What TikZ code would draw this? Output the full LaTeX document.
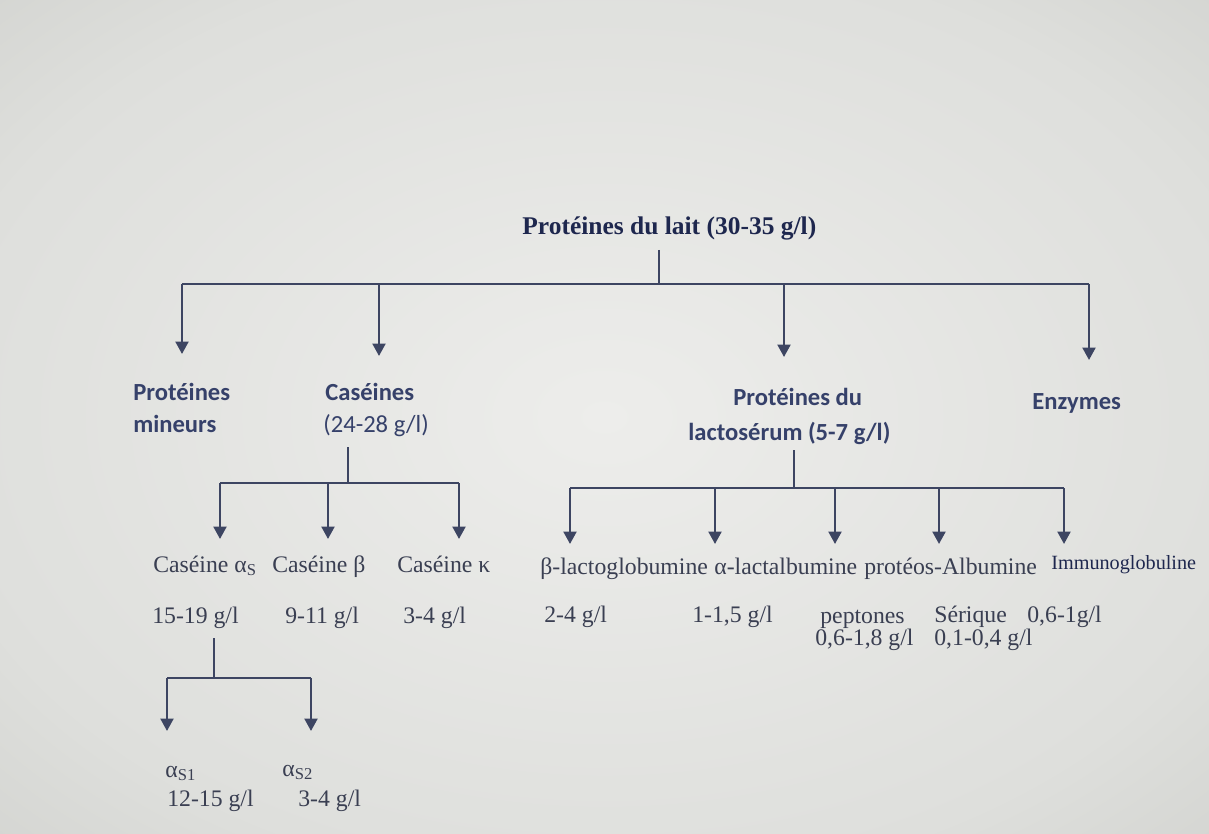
\documentclass[tikz,border=0pt]{standalone}
\usepackage{fontspec}
\setmainfont{Liberation Serif}
\newfontfamily\calibri{Carlito}
\usetikzlibrary{arrows.meta}
\definecolor{screenLight}{HTML}{EDEDEB}
\definecolor{screenGray}{HTML}{DEDFDC}
\definecolor{screenEdge}{HTML}{C4C5C1}
\definecolor{screenCorner}{HTML}{A3A4A0}
\definecolor{inkNavy}{HTML}{1E274E}
\definecolor{inkBlue}{HTML}{36416A}
\definecolor{inkGray}{HTML}{3A3F52}
\definecolor{lineGray}{HTML}{3D4562}
\pgfdeclareradialshading{ecran}{\pgfpoint{0bp}{0bp}}{color(0bp)=(screenLight); color(28bp)=(screenGray); color(50bp)=(screenEdge); color(72bp)=(screenCorner)}

\begin{document}
\begin{tikzpicture}[x=0.02cm, y=-0.02cm,
    titre/.style={font=\fontsize{14.5}{17}\selectfont\bfseries\color{inkNavy},
                  inner sep=0pt, anchor=base west},
    groupe/.style={font=\calibri\fontsize{14}{17}\selectfont\bfseries\color{inkBlue},
                   inner sep=0pt, anchor=base west},
    teneur/.style={font=\calibri\fontsize{14}{17}\selectfont\color{inkBlue},
                   inner sep=0pt, anchor=base west},
    prot/.style={font=\fontsize{13.5}{16}\selectfont\color{inkGray},
                 inner sep=0pt, anchor=base west},
    ln/.style={draw=lineGray, line width=1.35pt},
    arr/.style={ln, -{Triangle[length=2.5mm, width=2.6mm]}},
  ]
    \useasboundingbox (0,0) rectangle (1209,834);
    \shade[shading=ecran] (0,0) rectangle (1209,834);

    \node[titre] (lait) at (522,235) {Protéines du lait (30-35 g/l)};

    \node[groupe] (mineurs)   at (133,400) {Protéines};
    \node[groupe] (mineursB)  at (133,432) {mineurs};
    \node[groupe] (caseines)  at (325,400) {Caséines};
    \node[teneur] (caseinesB) at (323,432) {(24-28 g/l)};
    \node[groupe] (lacto)     at (733,405) {Protéines du};
    \node[groupe] (lactoB)    at (688,440) {lactosérum (5-7 g/l)};
    \node[groupe] (enzymes)   at (1032,409) {Enzymes};

    \node[prot] (csA) at (153,572) {Caséine α\textsubscript{S}};
    \node[prot] (csB) at (272,572) {Caséine β};
    \node[prot] (csK) at (397,572) {Caséine κ};
    \node[prot] (vA)  at (152,623) {15-19 g/l};
    \node[prot] (vB)  at (285,623) {9-11 g/l};
    \node[prot] (vK)  at (403,623) {3-4 g/l};

    \node[prot] (as1) at (165,777) {α\textsubscript{S1}};
    \node[prot] (as2) at (282,776) {α\textsubscript{S2}};
    \node[prot] (v1)  at (167,806) {12-15 g/l};
    \node[prot] (v2)  at (298,806) {3-4 g/l};

    \node[prot] (blg) at (540,574) {β-lactoglobumine};
    \node[prot] (ala) at (714,574) {α-lactalbumine};
    \node[prot] (ppa) at (864,574) {protéos-Albumine};
    \node[prot, font=\fontsize{11.5}{14}\selectfont\color{inkNavy}] (igg) at (1051,569) {Immunoglobuline};
    \node[prot] (vblg)  at (544,622) {2-4 g/l};
    \node[prot] (vala)  at (692,622) {1-1,5 g/l};
    \node[prot] (vpep)  at (820,623) {peptones};
    \node[prot] (vpepB) at (815,645) {0,6-1,8 g/l};
    \node[prot] (vser)  at (934,622) {Sérique};
    \node[prot] (vserB) at (934,645) {0,1-0,4 g/l};
    \node[prot] (vigg)  at (1027,622) {0,6-1g/l};

    \coordinate (j0top) at (659,250);
    \coordinate (j0) at (659,284);
    \coordinate (tMin) at (182,354);
    \coordinate (tCas) at (379,356);
    \coordinate (tLac) at (784,357);
    \coordinate (tEnz) at (1089,360);
    \draw[ln] (j0top) -- (j0);
    \draw[ln] (tMin |- j0) -- (tEnz |- j0);
    \foreach \t in {tMin,tCas,tLac,tEnz}
      \draw[arr] (\t |- j0) -- (\t);

    \coordinate (j1top) at (348,447);
    \coordinate (j1) at (348,483);
    \coordinate (tA) at (220,539);
    \coordinate (tB) at (328,539);
    \coordinate (tK) at (459,539);
    \draw[ln] (j1top) -- (j1);
    \draw[ln] (tA |- j1) -- (tK |- j1);
    \foreach \t in {tA,tB,tK}
      \draw[arr] (\t |- j1) -- (\t);

    \coordinate (j3top) at (214,638);
    \coordinate (j3) at (214,678);
    \coordinate (tS1) at (167,731);
    \coordinate (tS2) at (311,731);
    \draw[ln] (j3top) -- (j3);
    \draw[ln] (tS1 |- j3) -- (tS2 |- j3);
    \foreach \t in {tS1,tS2}
      \draw[arr] (\t |- j3) -- (\t);

    \coordinate (j2top) at (794,450);
    \coordinate (j2) at (794,488);
    \coordinate (tBlg) at (570,544);
    \coordinate (tAla) at (715,544);
    \coordinate (tPep) at (835,544);
    \coordinate (tSer) at (939,544);
    \coordinate (tIgg) at (1064,544);
    \draw[ln] (j2top) -- (j2);
    \draw[ln] (tBlg |- j2) -- (tIgg |- j2);
    \foreach \t in {tBlg,tAla,tPep,tSer,tIgg}
      \draw[arr] (\t |- j2) -- (\t);
  \end{tikzpicture}
\end{document}
